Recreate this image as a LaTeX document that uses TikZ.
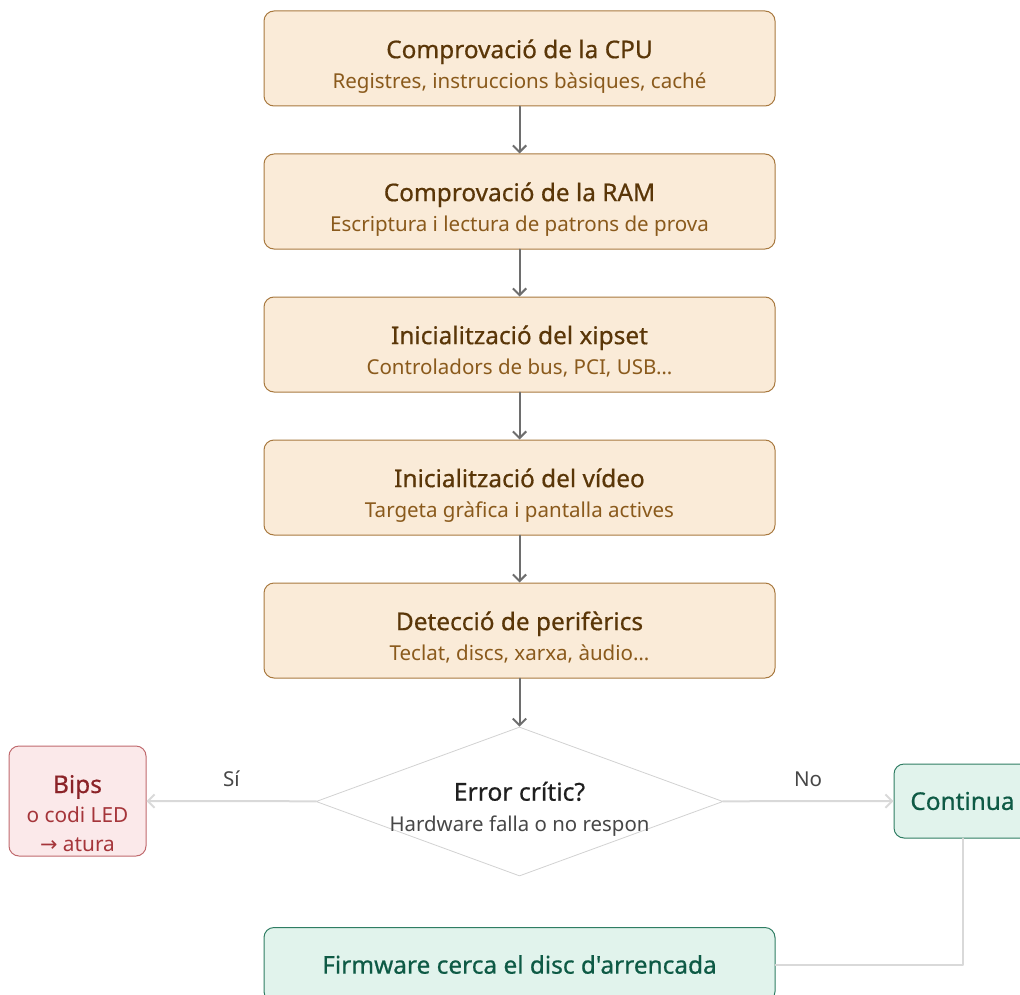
\documentclass[tikz,border=0pt]{standalone}
\usepackage{fontspec}
\setmainfont{Noto Sans}[Ligatures=TeXOff]
\newfontfamily\headfont{Noto Sans}[FakeBold=0.6,Ligatures=TeXOff]
\newfontfamily\symbolfont{DejaVu Sans}
\usetikzlibrary{arrows.meta}
\usetikzlibrary{shapes.geometric}
\definecolor{stagefill}{HTML}{FAEBD8}
\definecolor{stageline}{HTML}{A8793F}
\definecolor{stagetitle}{HTML}{5A3608}
\definecolor{stagesub}{HTML}{8A5A1C}
\definecolor{alarmfill}{HTML}{FBE9EA}
\definecolor{alarmline}{HTML}{C06A6E}
\definecolor{alarmtext}{HTML}{8B2328}
\definecolor{alarmsub}{HTML}{A5353A}
\definecolor{okfill}{HTML}{E1F3EC}
\definecolor{okline}{HTML}{2F7D63}
\definecolor{oktext}{HTML}{0E5A45}
\definecolor{flowgray}{HTML}{6E6E6E}
\definecolor{branchgray}{HTML}{D9D9D9}
\definecolor{decline}{HTML}{D2D2D2}

\begin{document}
\begin{tikzpicture}[x=0.75pt,y=-0.75pt,line cap=round,line join=round,>={Straight Barb[length=5pt,width=10pt]},
	stage/.style={draw=stageline,fill=stagefill,line width=0.75pt,rounded corners=7.5pt,minimum width=383.25pt,minimum height=71.25pt,inner sep=0pt,align=center,text=stagetitle,font=\headfont\fontsize{18.3}{23}\selectfont,text height=49.5pt,text depth=4pt},
	alarm/.style={draw=alarmline,fill=alarmfill,line width=0.75pt,rounded corners=7.5pt,minimum width=102.75pt,minimum height=82.5pt,inner sep=0pt,align=center,text=alarmtext,font=\headfont\fontsize{18.3}{22}\selectfont,text height=78pt,text depth=2pt},
	okbox/.style={draw=okline,fill=okfill,line width=0.75pt,rounded corners=7.5pt,minimum height=55.5pt,inner sep=0pt,text=oktext,font=\headfont\fontsize{18.3}{23}\selectfont},
	decision/.style={diamond,draw=decline,fill=white,line width=0.6pt,minimum width=305.25pt,minimum height=111.75pt,inner sep=0pt},
	flow/.style={draw=flowgray,line width=1.5pt},
	branch/.style={draw=branchgray,line width=1.5pt},
	note/.style={text=black!72,font=\fontsize{15.4}{19}\selectfont,inner sep=0pt}]
		\useasboundingbox (0,0) rectangle (1020,995);
		\clip (0,0) rectangle (1020,995);
		\node[stage] (cpu) at (519.5,58.5) {Comprovació de la CPU\\{\normalfont\fontsize{15.4}{19}\selectfont\color{stagesub}Registres, instruccions bàsiques, caché}};
		\node[stage] (ram) at (519.5,201.5) {Comprovació de la RAM\\{\normalfont\fontsize{15.4}{19}\selectfont\color{stagesub}Escriptura i lectura de patrons de prova}};
		\node[stage] (xipset) at (519.5,344.5) {Inicialització del xipset\\{\normalfont\fontsize{15.4}{19}\selectfont\color{stagesub}Controladors de bus, PCI, USB…}};
		\node[stage] (video) at (519.5,487.5) {Inicialització del vídeo\\{\normalfont\fontsize{15.4}{19}\selectfont\color{stagesub}Targeta gràfica i pantalla actives}};
		\node[stage] (perif) at (519.5,630.5) {Detecció de perifèrics\\{\normalfont\fontsize{15.4}{19}\selectfont\color{stagesub}Teclat, discs, xarxa, àudio…}};
		\node[decision] (crit) at (519.5,801.5) {};
		\node[align=center,text=black!88,font=\headfont\fontsize{18.5}{23}\selectfont,inner sep=0pt] (critlabel) at (519.5,809) {Error crític?\\{\normalfont\fontsize{15.3}{19}\selectfont\color{black!72}Hardware falla o no respon}};
		\node[alarm] (bips) at (77.5,801) {Bips\\{\normalfont\fontsize{15.6}{21}\selectfont\color{alarmsub}o codi LED}\\{\normalfont\fontsize{15.6}{21}\selectfont\color{alarmsub}{\symbolfont →} atura}};
		\node[okbox,minimum width=102.75pt] (cont) at (962.5,801) {Continua};
		\node[okbox,minimum width=383.25pt] (fw) at (519.5,964.5) {Firmware cerca el disc d'arrencada};
		% passos de la POST
		\draw[flow,->] (cpu) -- (ram);
		\draw[flow,->] (ram) -- (xipset);
		\draw[flow,->] (xipset) -- (video);
		\draw[flow,->] (video) -- (perif);
		\draw[flow,->] (perif) -- (crit);
		% branques
		\draw[branch,->] (crit) -- node[note,above=10pt] (si) {Sí} (bips);
		\draw[branch,->] (crit) -- node[note,above=10pt] (no) {No} (cont);
		\draw[branch] (cont) |- (fw);
\end{tikzpicture}
\end{document}
